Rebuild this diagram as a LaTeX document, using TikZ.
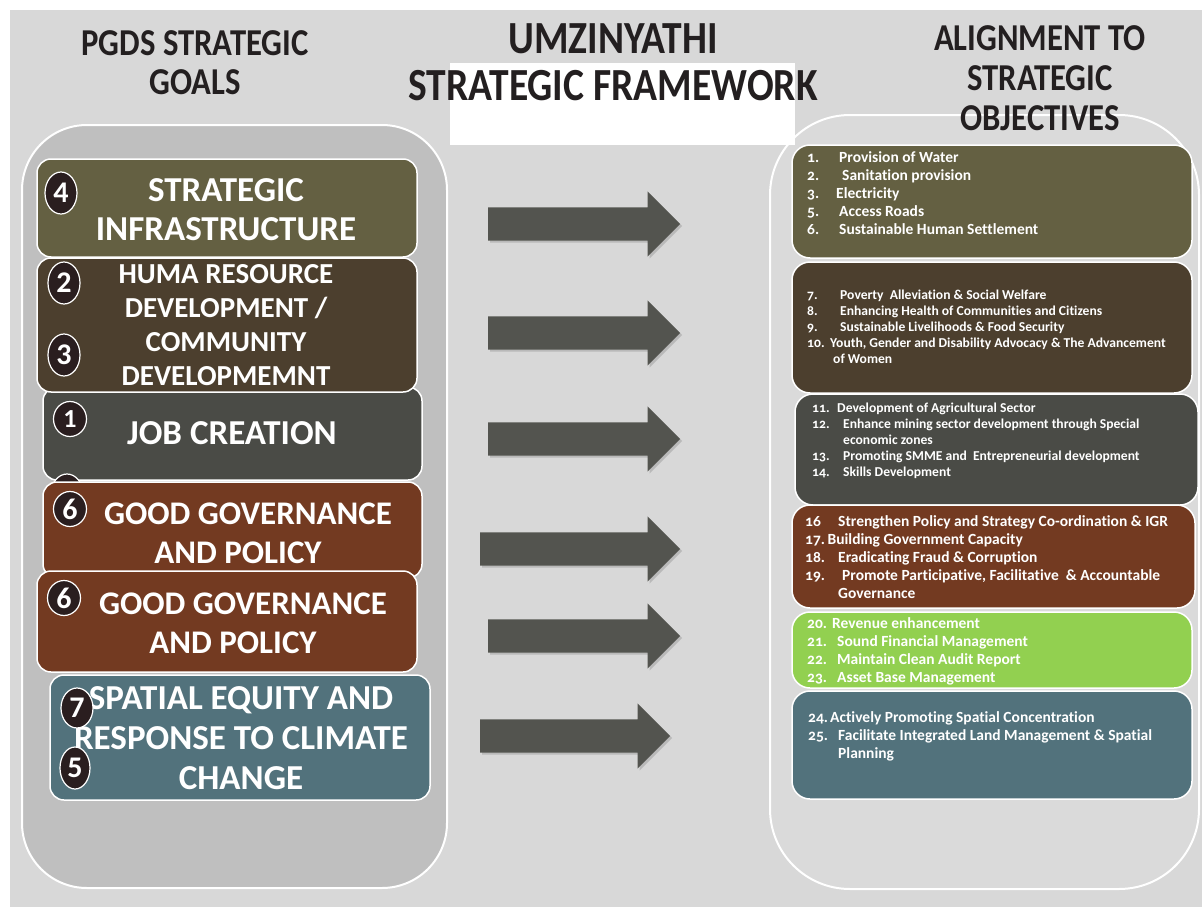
\documentclass[tikz,border=0pt]{standalone}
\usepackage{fontspec}
\setmainfont{Carlito}[Ligatures={NoCommon,NoContextual}]
\newfontfamily\headfont{Carlito}[FakeStretch=0.86]
\newfontfamily\listfont{Carlito}[Numbers=OldStyle,Ligatures={NoCommon,NoContextual}]
\usetikzlibrary{shapes.geometric,shapes.arrows,shadows,positioning}

\definecolor{slide}{RGB}{216,216,216}
\definecolor{goalpanel}{RGB}{191,191,191}
\definecolor{objpanel}{RGB}{218,218,218}
\definecolor{headink}{RGB}{35,31,32}
\definecolor{infra}{RGB}{100,96,66}
\definecolor{human}{RGB}{76,63,46}
\definecolor{jobs}{RGB}{74,75,70}
\definecolor{govern}{RGB}{115,58,33}
\definecolor{finance}{RGB}{146,208,80}
\definecolor{spatial}{RGB}{82,114,124}
\definecolor{arrowgrey}{RGB}{83,84,79}
\definecolor{bullet}{RGB}{42,30,31}

% number in front of an objective, padded to a fixed width
\newcommand{\objnum}[2][32pt]{\makebox[#1][l]{#2}}

\tikzset{
  panel/.style={draw=white,line width=2pt},
  heading/.style={text=headink,align=center,inner sep=0pt,
    font=\headfont\bfseries\fontsize{38}{39}\selectfont},
  goalbox/.style={draw=white,line width=1.5pt,rounded corners=14pt},
  goaltext/.style={text=white,align=center,inner sep=0pt,
    font=\bfseries\fontsize{33}{39}\selectfont},
  goalnum/.style={ellipse,draw=white,line width=1.2pt,fill=bullet,text=white,
    inner sep=0pt,minimum width=32pt,minimum height=40pt,
    font=\bfseries\fontsize{30}{30}\selectfont},
  objbox/.style={draw=white,line width=1.5pt,rounded corners=18pt},
  objlist/.style={text=white,align=left,inner sep=0pt,anchor=north west,
    font=\listfont\bfseries\fontsize{15.5}{18}\selectfont},
  smalllist/.style={objlist,font=\listfont\bfseries\fontsize{13.6}{16}\selectfont},
  bigarrow/.style={single arrow,anchor=tail,fill=arrowgrey,inner xsep=0pt,inner ysep=16.5pt,
    single arrow head extend=16pt,
    drop shadow={shadow xshift=2pt,shadow yshift=-2pt,opacity=0.35}},
}

\begin{document}
\begin{tikzpicture}[x=1pt,y=-1pt]
  \useasboundingbox (0,0) rectangle (1202,907);
  \fill[white] (0,0) rectangle (1202,907);
  \fill[slide] (10,10) rectangle (1202,907);

  % the two columns
  \node (goals) [panel,fill=goalpanel,rounded corners=65pt,minimum width=425pt,minimum height=763pt] at (234.5,506.5) {};
  \node (objs) [panel,fill=objpanel,rounded corners=80pt,minimum width=429pt,minimum height=774pt] at (984.5,502) {};

  % headings
  \node (pgds) [heading] at (195,63) {PGDS STRATEGIC\\GOALS};
  \fill[white] (450,63) rectangle (795,145);
  \node (title) [heading,font=\headfont\bfseries\fontsize{46}{47}\selectfont] at (613,62) {UMZINYATHI\\STRATEGIC FRAMEWORK};
  \node (align) [heading,font=\headfont\bfseries\fontsize{38}{40}\selectfont] at (1040,78) {ALIGNMENT TO\\STRATEGIC\\OBJECTIVES};

  % PGDS goals
  \node (g1) [goalbox,fill=infra,minimum width=380pt,minimum height=98pt] at (227,208) {};
  \node (g3) [goalbox,fill=jobs,minimum width=379pt,minimum height=93pt] at (232.5,433.5) {};
  \node (g2) [goalbox,fill=human,minimum width=380pt,minimum height=134pt] at (227,325) {};
  \node (n0) [goalnum] at (67,494) {};
  \node (g4) [goalbox,fill=govern,minimum width=379pt,minimum height=96pt] at (232.5,530) {};
  \node (g5) [goalbox,fill=govern,minimum width=380pt,minimum height=101pt] at (227,621.5) {};
  \node (g6) [goalbox,fill=spatial,minimum width=380pt,minimum height=125pt] at (240,737.5) {};

  \node (t1) [goaltext,font=\bfseries\fontsize{35}{39}\selectfont] at (226,210) {STRATEGIC\\INFRASTRUCTURE};
  \node (t2) [goaltext,font=\bfseries\fontsize{29}{34}\selectfont] at (226,325) {HUMA RESOURCE\\DEVELOPMENT /\\COMMUNITY\\DEVELOPMEMNT};
  \node (t3) [goaltext,font=\bfseries\fontsize{35}{39}\selectfont] at (232,433) {JOB CREATION};
  \node (t4) [goaltext] at (248,533) {GOOD GOVERNANCE\\AND POLICY\hspace*{20pt}};
  \node (t5) [goaltext] at (243,623) {GOOD GOVERNANCE\\AND POLICY\hspace*{20pt}};
  \node (t6) [goaltext,font=\bfseries\fontsize{35}{40}\selectfont] at (241,738) {SPATIAL EQUITY AND\\RESPONSE TO CLIMATE\\CHANGE};

  \node (n4) [goalnum,minimum height=42pt] at (61,193) {4};
  \node (n2) [goalnum,minimum height=42pt] at (64,283) {2};
  \node (n3) [goalnum,minimum height=42pt] at (64,355) {3};
  \node (n1) [goalnum,minimum width=33pt,minimum height=35pt,font=\bfseries\fontsize{26}{26}\selectfont] at (70,419) {1};
  \node (n6a) [goalnum,minimum width=33pt,minimum height=35pt] at (70,509) {6};
  \node (n6b) [goalnum,minimum width=33pt,minimum height=35pt] at (64,598) {6};
  \node (n7) [goalnum] at (77,708) {7};
  \node (n5) [goalnum,minimum width=30pt,minimum height=42pt] at (75,768) {5};

  % alignment arrows
  \node (a1) [bigarrow,minimum height=192pt] at (488,224) {};
  \node (a2) [bigarrow,minimum height=192pt] at (488,333) {};
  \node (a3) [bigarrow,minimum height=192pt] at (488,439) {};
  \node (a4) [bigarrow,minimum height=200pt] at (480,549) {};
  \node (a5) [bigarrow,minimum height=192pt] at (488,636) {};
  \node (a6) [bigarrow,minimum height=190pt] at (480,736) {};

  % strategic objectives
  \node (o1) [objbox,fill=infra,minimum width=400pt,minimum height=113pt] at (992,201.5) {};
  \node (o2) [objbox,fill=human,minimum width=400pt,minimum height=131pt] at (992,327.5) {};
  \node (o3) [objbox,fill=jobs,minimum width=403pt,minimum height=111pt] at (996.5,449.5) {};
  \node (o4) [objbox,fill=govern,minimum width=403pt,minimum height=103pt] at (993.5,556.5) {};
  \node (o5) [objbox,fill=finance,minimum width=400pt,minimum height=76pt] at (992,650) {};
  \node (o6) [objbox,fill=spatial,minimum width=400pt,minimum height=108pt] at (992,745) {};

  \node (l1) [objlist] at (807,151) {%
    \objnum{1.}Provision of Water\\
    \objnum[35pt]{2.}Sanitation provision\\
    \objnum[29pt]{3.}Electricity\\
    \objnum{5.}Access Roads\\
    \objnum{6.}Sustainable Human Settlement};
  \node (l2) [smalllist] at (807,290) {%
    \objnum[33pt]{7.}Poverty\ \ Alleviation \& Social Welfare\\
    \objnum[33pt]{8.}Enhancing Health of Communities and Citizens\\
    \objnum[33pt]{9.}Sustainable Livelihoods \& Food Security\\
    \objnum[23pt]{10.}Youth, Gender and Disability Advocacy \& The Advancement\\
    \hspace*{26pt}of Women};
  \node (l3) [smalllist] at (812,403) {%
    \objnum[25pt]{11.}Development of Agricultural Sector\\
    \objnum[31pt]{12.}Enhance mining sector development through Special\\
    \hspace*{31pt}economic zones\\
    \objnum[31pt]{13.}Promoting SMME and\ \ Entrepreneurial development\\
    \objnum[31pt]{14.}Skills Development};
  \node (l4) [objlist] at (805,515) {%
    \objnum[33pt]{16}Strengthen Policy and Strategy Co-ordination \& IGR\\
    17.\,Building Government Capacity\\
    \objnum[33pt]{18.}Eradicating Fraud \& Corruption\\
    \objnum[37pt]{19.}Promote Participative, Facilitative\ \ \& Accountable\\
    \hspace*{33pt}Governance};
  \node (l5) [objlist] at (807,617) {%
    \objnum[25pt]{20.}Revenue enhancement\\
    \objnum[30pt]{21.}Sound Financial Management\\
    \objnum[30pt]{22.}Maintain Clean Audit Report\\
    \objnum[30pt]{23.}Asset Base Management};
  \node (l6) [objlist] at (808,711) {%
    \objnum[22pt]{24.}Actively Promoting Spatial Concentration\\
    \objnum[30pt]{25.}Facilitate Integrated Land Management \& Spatial\\
    \hspace*{30pt}Planning};
\end{tikzpicture}
\end{document}
